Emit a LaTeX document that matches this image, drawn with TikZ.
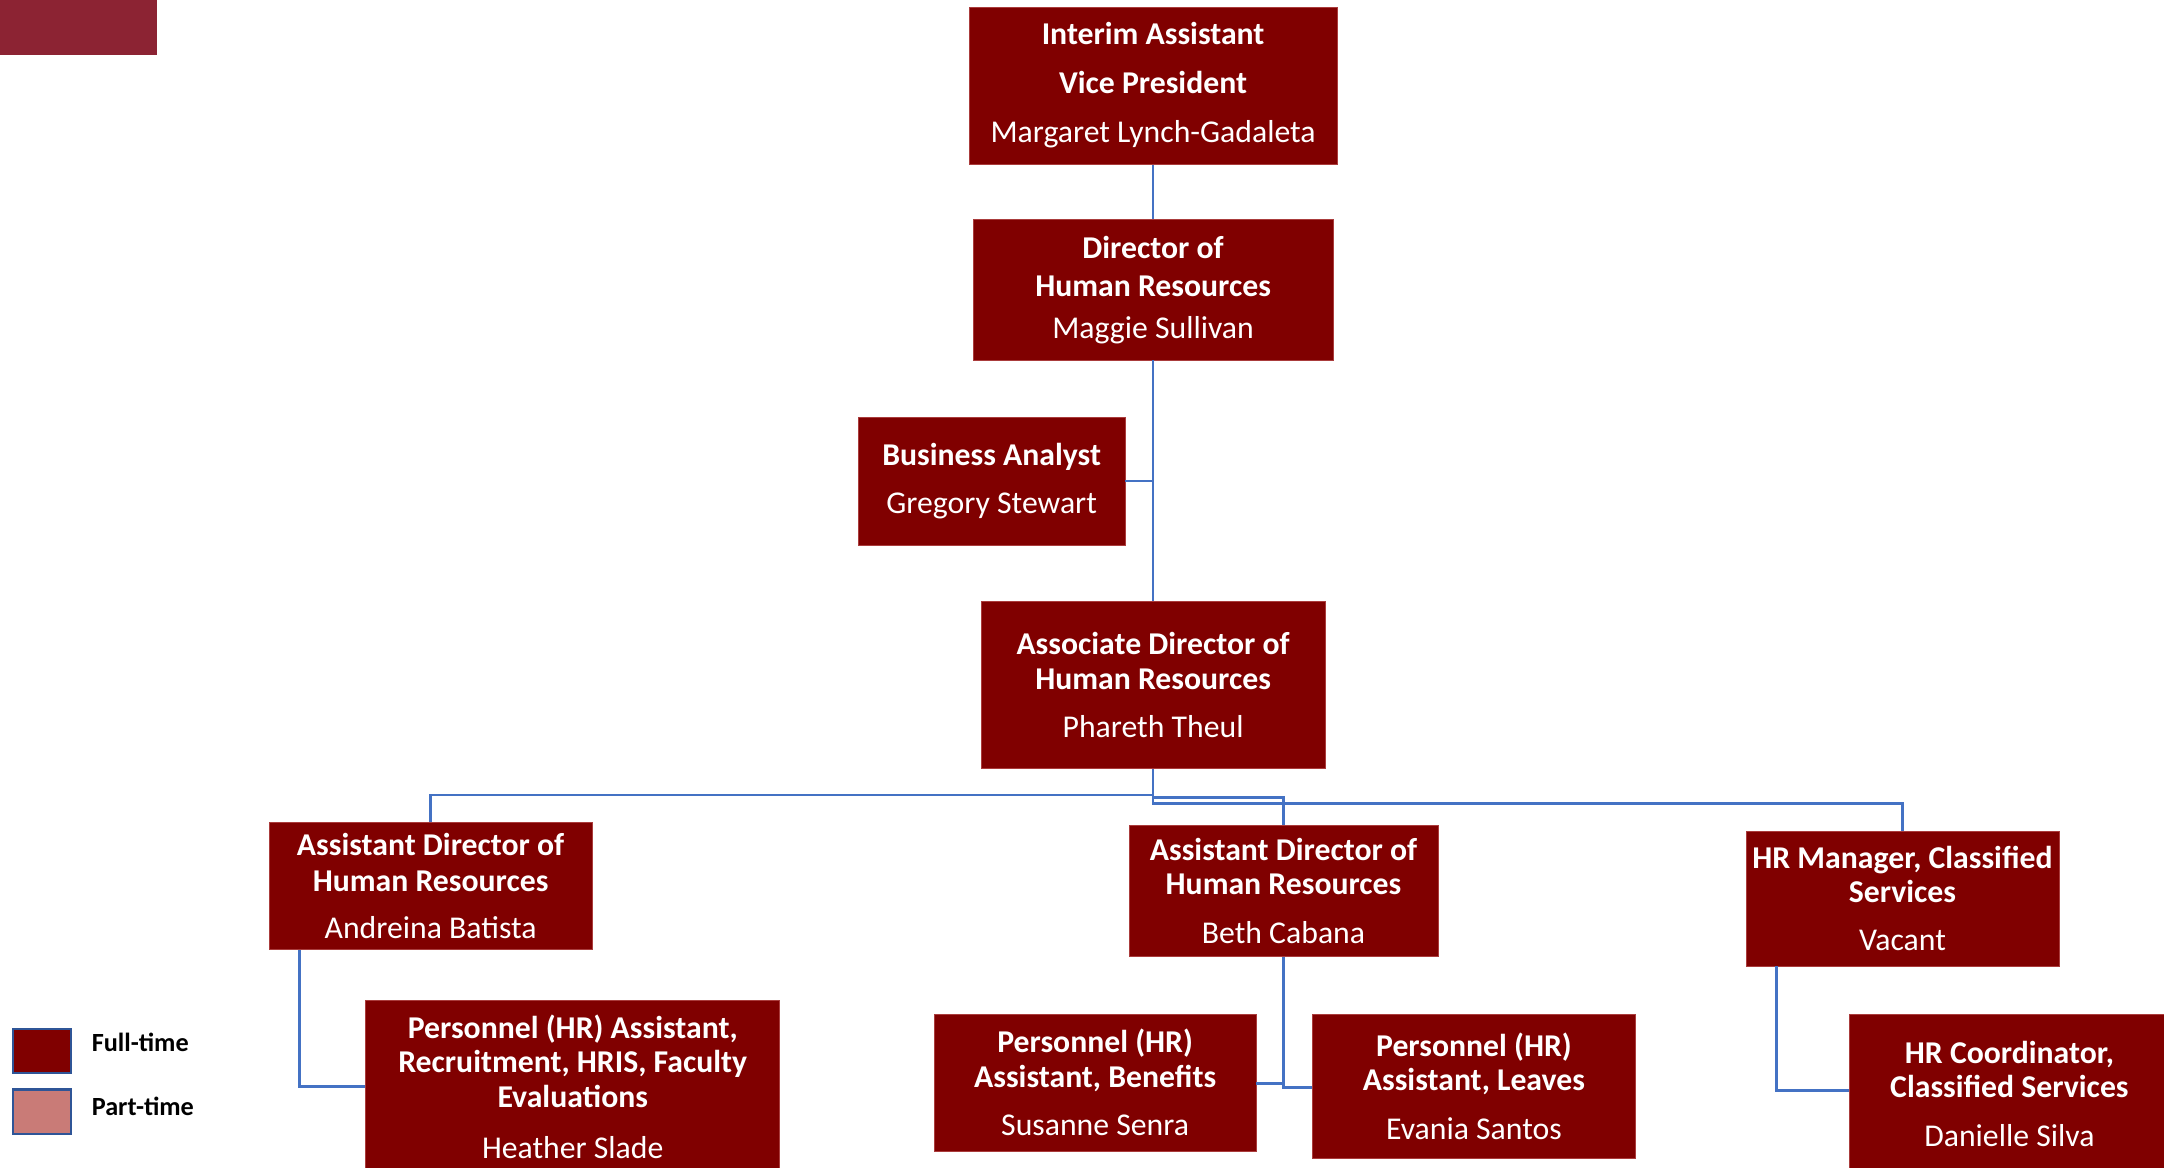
\documentclass[tikz,border=0pt]{standalone}
\usepackage{fontspec}
\setmainfont{Carlito}
\definecolor{boxred}{HTML}{800000}
\definecolor{topred}{HTML}{8C2333}
\definecolor{linkblue}{HTML}{4472C4}
\definecolor{legblue}{HTML}{2F5597}
\definecolor{partred}{HTML}{C97B77}
\begin{document}
\begin{tikzpicture}[x=1pt,y=-1pt,
  orgbox/.style={fill=boxred, draw={rgb,255:red,170;green,60;blue,60}, line width=0.4pt,
    text=white, align=center, inner sep=0pt, anchor=center,
    font=\fontsize{23}{25}\selectfont},
  link/.style={draw=linkblue, line width=2pt},
  legbox/.style={draw=legblue, line width=1.8pt, minimum width=42pt, minimum height=32pt, inner sep=0pt},
  legtext/.style={anchor=west, font=\fontsize{19}{22}\selectfont\bfseries, text=black}]
\useasboundingbox (0,0) rectangle (1568,846);
\clip (0,0) rectangle (1568,846);
\fill[topred] (0,0) rectangle (114,40);

\node[orgbox, minimum width=267pt, minimum height=114pt] (iavp) at (835.5,62)
  {\textbf{Interim Assistant}\\[10pt]\textbf{Vice President}\\[11pt]Margaret Lynch-Gadaleta};
\node[orgbox, minimum width=261pt, minimum height=102pt] (dir) at (835.5,210)
  {\textbf{Director of}\\[3pt]\textbf{Human Resources}\\[5pt]Maggie Sullivan};
\node[orgbox, minimum width=193pt, minimum height=93pt] (ba) at (718.5,348.5)
  {\textbf{Business Analyst}\\[10pt]Gregory Stewart};
\node[orgbox, minimum width=249pt, minimum height=121pt] (assoc) at (835.5,496.5)
  {\textbf{Associate Director of}\\\textbf{Human Resources}\\[10pt]Phareth Theul};
\node[orgbox, minimum width=234pt, minimum height=92pt] (andr) at (312,642)
  {\textbf{Assistant Director of}\\[1pt]\textbf{Human Resources}\\[9pt]Andreina Batista};
\node[orgbox, minimum width=224pt, minimum height=95pt] (beth) at (930,645.5)
  {\textbf{Assistant Director of}\\\textbf{Human Resources}\\[10pt]Beth Cabana};
\node[orgbox, minimum width=227pt, minimum height=98pt] (hrm) at (1378.5,651)
  {\textbf{HR Manager, Classified}\\\textbf{Services}\\[10pt]Vacant};
\node[orgbox, minimum width=300pt, minimum height=125pt] (recr) at (415,787.5)
  {\textbf{Personnel (HR) Assistant,}\\\textbf{Recruitment, HRIS, Faculty}\\\textbf{Evaluations}\\[12pt]Heather Slade};
\node[orgbox, minimum width=233pt, minimum height=99pt] (ben) at (793.5,784.5)
  {\textbf{Personnel (HR)}\\\textbf{Assistant, Benefits}\\[10pt]Susanne Senra};
\node[orgbox, minimum width=234pt, minimum height=104pt] (leav) at (1068,787)
  {\textbf{Personnel (HR)}\\\textbf{Assistant, Leaves}\\[10pt]Evania Santos};
\node[orgbox, minimum width=232pt, minimum height=115pt] (hrc) at (1456,792.5)
  {\textbf{HR Coordinator,}\\\textbf{Classified Services}\\[10pt]Danielle Silva};

% legend
\node[legbox, fill=boxred] (lfull) at (30.5,761.5) {};
\node[legtext] (lfullt) at (63,755) {Full-time};
\node[legbox, fill=partred] (lpart) at (30.5,805.5) {};
\node[legtext] (lpartt) at (63,802) {Part-time};

% connectors
\draw[link] (iavp.south) -- (dir.north);
\draw[link] (dir.south) -- (assoc.north);
\draw[link] (ba.east) -- (ba.east -| dir.south);
\coordinate (j1) at (835.5,576);
\draw[link] (assoc.south) -- (j1) -| (andr.north);
\draw[link] (j1) -- (835.5,582) -| (hrm.north);
\draw[link] (835.5,578) -| (beth.north);
\coordinate (a1) at (217,688);
\draw[link] (a1) |- (recr.west);
\draw[link] (beth.south) -- (930,788) -- (leav.west |- 0,788);
\draw[link] (ben.east |- 0,785) -- (930,785);
\coordinate (h1) at (1287,700);
\draw[link] (h1) |- (hrc.west |- 0,790);
\end{tikzpicture}
\end{document}
